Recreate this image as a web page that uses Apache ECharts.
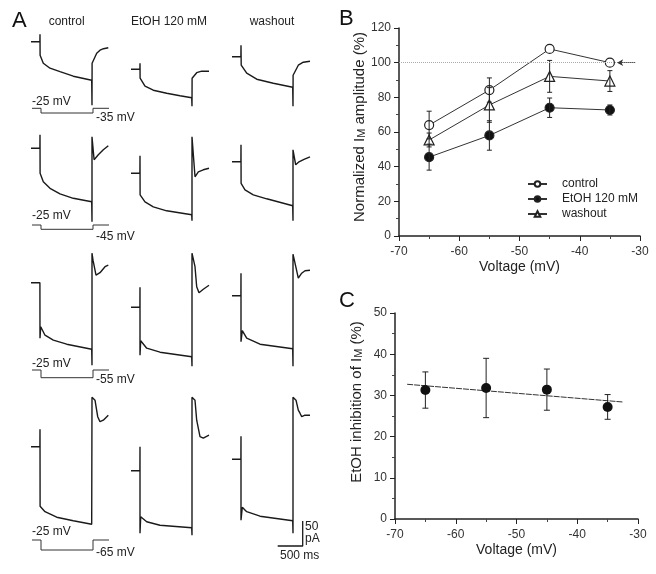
<!DOCTYPE html>
<html><head><meta charset="utf-8">
<script src="https://cdn.jsdelivr.net/npm/echarts@6/dist/echarts.min.js"></script>
<style>html,body{margin:0;padding:0;background:#fff}#c{width:656px;height:574px}</style>
</head><body><div id="c"></div>
<script>
// ================= DATA =================
// Panel B: normalized IM amplitude (%) vs voltage
const voltages = [-65, -55, -45, -35];
const controlAmp = [64, 84.2, 107.9, 100];
const controlErr = [8, 7, 0, 0];
const etohAmp = [45.5, 58, 74, 72.7];
const etohErr = [7.5, 8.5, 5.6, 2.9];
const washAmp = [55.4, 75.6, 92.1, 89.4];
const washErr = [4, 10, 9.2, 6];
const referenceLevel = 100;
const refLineFrom = -70, refLineTo = -31;
const arrowFrom = -30.8, arrowTo = -33.8;

// Panel C: EtOH inhibition of IM (%)
const inhibition = [31.3, 31.8, 31.4, 27.2];
const inhibitionErr = [4.4, 7.2, 5, 3];
const fitVoltage = [-68, -32.5];
const fitInhibition = [32.7, 28.4];

// Axis ranges / ticks
const voltageMin = -70, voltageMax = -30, voltageStep = 10;
const ampMin = 0, ampMax = 120, ampStep = 20;
const inhMin = 0, inhMax = 50, inhStep = 10;

// Panel A: current traces [time ms, current pA], relative to control holding current of each row
const conditions = ['control', 'EtOH 120 mM', 'washout'];
const holdingMv = -25;
const stepMv = [-35, -45, -55, -65];
const stepOnMs = 180, stepOffMs = 1220, sweepEndMs = 1540;
const scaleBarMs = 500, scaleBarPa = 50;

const trace_control_m35 = [[0,0],[178,0],[180,15],[182,-27],[246,-43],[380,-53],[580,-60],[846,-69],[1214,-77],[1220,-127],[1222,-43],[1247,-43],[1314,-23],[1380,-17],[1450,-14],[1546,-12]];
const trace_etoh_m35 = [[0,-55],[178,-55],[180,-43],[182,-73],[280,-89],[446,-97],[714,-103],[980,-108],[1214,-112],[1220,-129],[1222,-73],[1246,-73],[1314,-62],[1414,-59],[1560,-59]];
const trace_wash_m35 = [[0,-30],[178,-30],[180,-7],[184,-47],[294,-63],[494,-75],[826,-83],[1214,-91],[1220,-129],[1222,-67],[1260,-67],[1326,-47],[1426,-41],[1560,-39]];

const trace_control_m45 = [[0,0],[178,0],[180,27],[182,-50],[246,-67],[380,-80],[580,-91],[846,-100],[1214,-107],[1220,-147],[1220,23],[1262,-23],[1346,-13],[1446,-3],[1546,5]];
const trace_etoh_m45 = [[0,-50],[178,-50],[180,-15],[182,-93],[280,-107],[446,-117],[714,-125],[1214,-133],[1220,-145],[1220,23],[1280,-57],[1346,-47],[1446,-43],[1560,-40]];
const trace_wash_m45 = [[0,-27],[178,-27],[180,7],[182,-70],[260,-83],[426,-93],[694,-101],[1214,-115],[1220,-145],[1220,-3],[1274,-33],[1340,-27],[1440,-22],[1560,-17]];

const trace_control_m55 = [[0,0],[178,0],[180,2],[180,-111],[194,-88],[280,-105],[446,-115],[714,-123],[1214,-133],[1220,-165],[1220,59],[1240,45],[1300,15],[1330,17],[1380,20],[1480,32],[1546,35]];
const trace_etoh_m55 = [[0,-49],[178,-49],[180,-9],[180,-145],[194,-116],[314,-131],[580,-139],[1214,-148],[1220,-167],[1220,59],[1280,32],[1314,-8],[1360,-20],[1446,-13],[1560,-5]];
const trace_wash_m55 = [[0,-26],[178,-26],[180,19],[180,-118],[206,-96],[294,-111],[560,-123],[1214,-132],[1220,-167],[1220,57],[1280,30],[1326,9],[1394,19],[1460,24],[1560,25]];

const trace_control_m65 = [[0,0],[178,0],[180,35],[182,-119],[280,-130],[514,-141],[846,-148],[1214,-155],[1220,-159],[1220,99],[1280,93],[1334,60],[1380,50],[1446,53],[1480,57],[1546,63]];
const trace_etoh_m65 = [[0,-48],[178,-48],[180,0],[180,-173],[194,-140],[314,-150],[580,-157],[1214,-162],[1220,-177],[1220,99],[1280,93],[1314,53],[1380,20],[1446,17],[1480,20],[1560,23]];
const trace_wash_m65 = [[0,-25],[178,-25],[180,21],[180,-147],[206,-121],[294,-130],[560,-139],[1214,-148],[1220,-173],[1220,99],[1280,93],[1326,73],[1360,67],[1394,60],[1460,63],[1560,63]];

const traceRows = [
  [trace_control_m35, trace_etoh_m35, trace_wash_m35],
  [trace_control_m45, trace_etoh_m45, trace_wash_m45],
  [trace_control_m55, trace_etoh_m55, trace_wash_m55],
  [trace_control_m65, trace_etoh_m65, trace_wash_m65]
];

// ================= LAYOUT =================
const FONT = 'Liberation Sans, Arial, Helvetica, sans-serif';
const INK = '#1a1a1a';
const colLeft = [31, 131, 232];
const colCenter = [66.7, 169, 272];
const rowZeroY = [41.7, 148.3, 282.7, 446.7];
const traceW = 80, traceMs = 1600;
const traceAbove = 30, traceBelow = 90, paPerPx = 2;
const protoTop = [108.3, 225, 370, 540];
const protoH = [4.7, 4.3, 7.7, 10];
const holdLabelY = [101.7, 216, 364, 531.7];
const stepLabelY = [117.5, 236.7, 379.7, 552.3];

const grids = [], xAxes = [], yAxes = [], series = [], graphics = [];
function hiddenAxis(extra) {
  return Object.assign({show:false, axisLine:{show:false}, axisTick:{show:false}, axisLabel:{show:false}, splitLine:{show:false}}, extra);
}
function addGrid(g, xa, ya) {
  grids.push(Object.assign({outerBoundsMode:'none', containLabel:false}, g));
  const gi = grids.length - 1;
  xAxes.push(Object.assign({gridIndex: gi}, xa));
  yAxes.push(Object.assign({gridIndex: gi}, ya));
  return gi;
}

// Panel A traces
traceRows.forEach((row, r) => {
  row.forEach((tr, c) => {
    const gi = addGrid(
      {left: colLeft[c], top: rowZeroY[r] - traceAbove, width: traceW, height: (traceAbove + traceBelow)},
      hiddenAxis({type:'value', min:0, max:traceMs}),
      hiddenAxis({type:'value', min:-traceBelow*paPerPx, max:traceAbove*paPerPx})
    );
    series.push({type:'line', xAxisIndex:gi, yAxisIndex:gi, data:tr, showSymbol:false, symbol:'none',
      clip:false, silent:true, lineStyle:{color:INK, width:1.4}, z:2});
    if (r === 3 && c === 2) {
      // scale bar
      const t0 = 914, i0 = -198.6;
      series.push({type:'line', xAxisIndex:gi, yAxisIndex:gi, clip:false, silent:true, symbol:'none',
        data:[[t0, i0],[t0+scaleBarMs, i0],[t0+scaleBarMs, i0+scaleBarPa]], lineStyle:{color:INK, width:1.3}});
    }
  });
  // voltage protocol
  const pg = addGrid(
    {left: colLeft[0] + 1, top: protoTop[r], width: traceW, height: protoH[r]},
    hiddenAxis({type:'value', min:0, max:traceMs}),
    hiddenAxis({type:'value', min:stepMv[r], max:holdingMv})
  );
  series.push({type:'line', xAxisIndex:pg, yAxisIndex:pg, clip:false, silent:true, symbol:'none',
    data:[[0,holdingMv],[stepOnMs,holdingMv],[stepOnMs,stepMv[r]],[stepOffMs,stepMv[r]],[stepOffMs,holdingMv],[sweepEndMs,holdingMv]],
    lineStyle:{color:'#333', width:1}});
  graphics.push({type:'text', x:32, y:holdLabelY[r], style:{text: holdingMv + ' mV', font:'12px ' + FONT, fill:'#222', verticalAlign:'middle', align:'left'}});
  graphics.push({type:'text', x:96, y:stepLabelY[r], style:{text: stepMv[r] + ' mV', font:'12px ' + FONT, fill:'#222', verticalAlign:'middle', align:'left'}});
});
conditions.forEach((name, c) => {
  graphics.push({type:'text', x:colCenter[c], y:21.7, style:{text:name, font:'12px ' + FONT, fill:'#222', align:'center', verticalAlign:'middle'}});
});
graphics.push({type:'text', x:305, y:527, style:{text:String(scaleBarPa), font:'12px ' + FONT, fill:'#222', verticalAlign:'middle'}});
graphics.push({type:'text', x:305, y:539, style:{text:'pA', font:'12px ' + FONT, fill:'#222', verticalAlign:'middle'}});
graphics.push({type:'text', x:280, y:556, style:{text:scaleBarMs + ' ms', font:'12px ' + FONT, fill:'#222', verticalAlign:'middle'}});
// Panel letters
graphics.push({type:'text', x:12, y:21, style:{text:'A', font:'22px ' + FONT, fill:'#111', verticalAlign:'middle'}});
graphics.push({type:'text', x:339, y:19, style:{text:'B', font:'22px ' + FONT, fill:'#111', verticalAlign:'middle'}});
graphics.push({type:'text', x:339, y:301, style:{text:'C', font:'22px ' + FONT, fill:'#111', verticalAlign:'middle'}});

// Shared axis styles for B & C
function voltageAxis(gi) {
  return {type:'value', gridIndex:gi, min:voltageMin, max:voltageMax, interval:voltageStep,
    name:'Voltage (mV)', nameLocation:'middle', nameGap:24,
    nameTextStyle:{fontSize:14, color:'#222', fontFamily:FONT},
    axisLine:{show:true, onZero:false, lineStyle:{color:'#222', width:1.5}},
    axisTick:{show:true, inside:false, length:5, lineStyle:{color:'#222', width:1}},
    minorTick:{show:true, splitNumber:2, length:3, lineStyle:{color:'#444', width:1}},
    axisLabel:{fontSize:12, color:'#333', margin:10, fontFamily:FONT},
    splitLine:{show:false}, minorSplitLine:{show:false}};
}
function valueAxis(gi, min, max, step, nameRich, pad) {
  return {type:'value', gridIndex:gi, min:min, max:max, interval:step,
    name:nameRich, nameLocation:'middle', nameGap:31, nameRotate:90,
    nameTextStyle:{fontSize:15, color:'#222', fontFamily:FONT, padding:pad,
      rich:{sub:{fontSize:11, color:'#222', fontFamily:FONT, verticalAlign:'bottom'}}},
    axisLine:{show:true, onZero:false, lineStyle:{color:'#222', width:1.5}},
    axisTick:{show:true, inside:false, length:5, lineStyle:{color:'#222', width:1}},
    minorTick:{show:true, splitNumber:2, length:3, lineStyle:{color:'#444', width:1}},
    axisLabel:{fontSize:12, color:'#333', margin:8, fontFamily:FONT},
    splitLine:{show:false}, minorSplitLine:{show:false}};
}

// Panel B
grids.push({left:399, right:16, top:28, bottom:338, outerBoundsMode:'none', containLabel:false});
const gB = grids.length - 1;
xAxes.push(voltageAxis(gB));
yAxes.push(valueAxis(gB, ampMin, ampMax, ampStep, 'Normalized I{sub|M} amplitude (%)', [0,0,0,10]));

function errorBarItem(capHalf) {
  return function (params, api) {
    const x = api.value(0), lo = api.value(1), hi = api.value(2);
    if (!(hi - lo > 0)) return null;
    const a = api.coord([x, lo]), b = api.coord([x, hi]);
    const st = {stroke:'#222', lineWidth:1};
    return {type:'group', children:[
      {type:'line', shape:{x1:a[0], y1:a[1], x2:b[0], y2:b[1]}, style:st},
      {type:'line', shape:{x1:a[0]-capHalf, y1:a[1], x2:a[0]+capHalf, y2:a[1]}, style:st},
      {type:'line', shape:{x1:b[0]-capHalf, y1:b[1], x2:b[0]+capHalf, y2:b[1]}, style:st}
    ]};
  };
}
function pairs(xs, ys) { return xs.map((x, i) => [x, ys[i]]); }
function errData(xs, ys, es) { return xs.map((x, i) => [x, ys[i] - es[i], ys[i] + es[i]]); }

const conditionStyles = [
  {name:'control', amp:controlAmp, err:controlErr, symbol:'circle', fill:'#fff'},
  {name:'EtOH 120 mM', amp:etohAmp, err:etohErr, symbol:'circle', fill:'#111'},
  {name:'washout', amp:washAmp, err:washErr, symbol:'triangle', fill:'#fff'}
];
conditionStyles.forEach((s, k) => {
  const ser = {type:'line', name:s.name, xAxisIndex:gB, yAxisIndex:gB, data:pairs(voltages, s.amp),
    symbol:s.symbol, symbolSize: s.symbol === 'triangle' ? 10 : 9, showSymbol:true, silent:true,
    lineStyle:{color:'#333', width:1}, itemStyle:{color:s.fill, borderColor:'#222', borderWidth:1.2, opacity:1}, z:3};
  if (k === 0) {
    ser.markLine = {silent:true, symbol:['none','none'], label:{show:false}, animation:false,
      data:[
        [{coord:[refLineFrom, referenceLevel], lineStyle:{type:'dotted', color:'#aaa', width:1}}, {coord:[refLineTo, referenceLevel]}],
        [{coord:[arrowFrom, referenceLevel], symbol:'none', lineStyle:{type:'dotted', color:'#333', width:1}}, {coord:[arrowTo, referenceLevel], symbol:'arrow', symbolSize:[5,6]}]
      ]};
  }
  series.push(ser);
  series.push({type:'custom', xAxisIndex:gB, yAxisIndex:gB, silent:true, z:4,
    data:errData(voltages, s.amp, s.err), encode:{x:0, y:[1,2]}, renderItem:errorBarItem(2.5)});
});

// Panel C
grids.push({left:395, right:18, top:313, bottom:55, outerBoundsMode:'none', containLabel:false});
const gC = grids.length - 1;
xAxes.push(voltageAxis(gC));
yAxes.push(valueAxis(gC, inhMin, inhMax, inhStep, 'EtOH inhibition of I{sub|M} (%)', [0,0,0,28]));
series.push({type:'line', xAxisIndex:gC, yAxisIndex:gC, data:pairs(fitVoltage, fitInhibition), symbol:'none',
  silent:true, lineStyle:{color:'#333', width:1, type:[6,1]}, z:2});
series.push({type:'custom', xAxisIndex:gC, yAxisIndex:gC, silent:true, z:3,
  data:errData(voltages, inhibition, inhibitionErr), encode:{x:0, y:[1,2]}, renderItem:errorBarItem(3)});
series.push({type:'scatter', xAxisIndex:gC, yAxisIndex:gC, data:pairs(voltages, inhibition), symbol:'circle',
  symbolSize:10, silent:true, itemStyle:{color:'#111', opacity:1}, z:4});

const chart = echarts.init(document.getElementById('c'), null, {renderer:'canvas'});
chart.setOption({
  animation:false,
  backgroundColor:'#fff',
  textStyle:{fontFamily:FONT},
  grid:grids, xAxis:xAxes, yAxis:yAxes, series:series,
  legend:{show:true, data:['control','EtOH 120 mM','washout'], orient:'vertical', left:522, top:173,
    itemGap:3, itemWidth:19, itemHeight:7, selectedMode:false,
    textStyle:{fontSize:12, color:'#222', fontFamily:FONT, padding:[0,0,0,10]}},
  graphic:graphics
});
</script></body></html>
